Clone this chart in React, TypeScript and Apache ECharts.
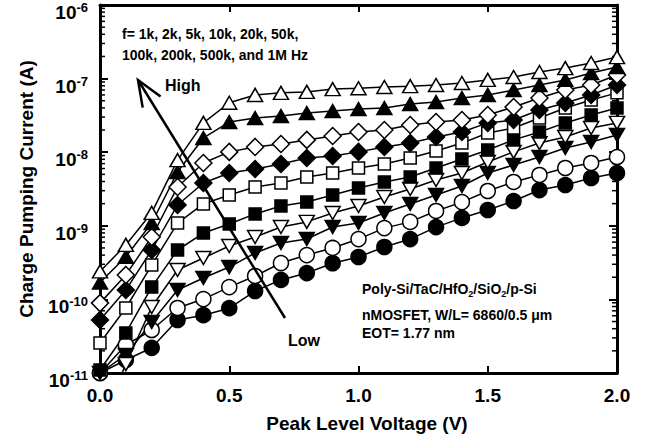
import React, { useEffect, useRef } from "react";
import * as echarts from "echarts";

// Peak level voltage (V) of each measurement point
const voltages = [0.0, 0.1, 0.2, 0.3, 0.4, 0.5, 0.6, 0.7, 0.8, 0.9, 1.0, 1.1, 1.2, 1.3, 1.4, 1.5, 1.6, 1.7, 1.8, 1.9, 2.0];

// Charge pumping current (A) at each gate-pulse frequency
const icp1k = [1.0e-11, 1.5e-11, 2.2e-11, 5.25e-11, 6.1e-11, 7.6e-11, 1.3e-10, 1.84e-10, 2.28e-10, 3.1e-10, 3.77e-10, 5.15e-10, 6.6e-10, 9.6e-10, 1.28e-9, 1.64e-9, 2.17e-9, 3.06e-9, 3.58e-9, 4.46e-9, 5.2e-9];
const icp2k = [1.0e-11, 2.4e-11, 3.84e-11, 7.64e-11, 1.01e-10, 1.47e-10, 2.08e-10, 3.12e-10, 4.0e-10, 5.0e-10, 6.6e-10, 9.3e-10, 1.13e-9, 1.59e-9, 2.1e-9, 2.97e-9, 3.94e-9, 4.9e-9, 6.1e-9, 7.13e-9, 8.6e-9];
const icp5k = [1.0e-11, 1.76e-11, 4.93e-11, 1.34e-10, 1.95e-10, 2.75e-10, 4.27e-10, 5.84e-10, 6.62e-10, 9.63e-10, 1.09e-9, 1.49e-9, 1.98e-9, 2.62e-9, 3.47e-9, 5.21e-9, 6.7e-9, 8.6e-9, 1.14e-8, 1.38e-8, 1.71e-8];
const icp10k = [2.0e-12, 1.32e-11, 7.88e-11, 2.51e-10, 3.65e-10, 5.32e-10, 7.05e-10, 9.63e-10, 1.13e-9, 1.49e-9, 1.86e-9, 2.46e-9, 3.16e-9, 4.19e-9, 5.21e-9, 7.36e-9, 1.01e-8, 1.33e-8, 1.61e-8, 2.13e-8, 2.5e-8];
const icp20k = [1.1e-11, 3.5e-11, 1.47e-10, 4.69e-10, 7.98e-10, 1.06e-9, 1.45e-9, 1.86e-9, 2.1e-9, 2.62e-9, 3.26e-9, 3.94e-9, 4.6e-9, 6.1e-9, 8.09e-9, 1.07e-8, 1.47e-8, 1.88e-8, 2.5e-8, 3.2e-8, 3.99e-8];
const icp50k = [2.56e-11, 7.64e-11, 2.93e-10, 1.09e-9, 1.98e-9, 2.62e-9, 3.37e-9, 3.82e-9, 4.6e-9, 5.21e-9, 6.1e-9, 6.92e-9, 8.34e-9, 1.04e-8, 1.33e-8, 1.82e-8, 2.13e-8, 2.92e-8, 3.99e-8, 5.12e-8, 6.4e-8];
const icp100k = [5.25e-11, 1.34e-10, 4.69e-10, 1.92e-9, 3.82e-9, 5.21e-9, 5.91e-9, 6.92e-9, 8.34e-9, 8.88e-9, 1.01e-8, 1.18e-8, 1.33e-8, 1.61e-8, 1.88e-8, 2.5e-8, 2.74e-8, 3.74e-8, 4.66e-8, 6.0e-8, 8.2e-8];
const icp200k = [8.9e-11, 2.15e-10, 7.05e-10, 3.37e-9, 7.13e-9, 1.01e-8, 1.18e-8, 1.29e-8, 1.47e-8, 1.66e-8, 1.88e-8, 2.0e-8, 2.34e-8, 2.57e-8, 2.74e-8, 3.2e-8, 4.11e-8, 5.45e-8, 7.0e-8, 8.2e-8, 1.12e-7];
const icp500k = [1.7e-10, 3.8e-10, 1.09e-9, 5.38e-9, 1.56e-8, 2.57e-8, 2.92e-8, 3.1e-8, 3.41e-8, 3.63e-8, 3.86e-8, 3.99e-8, 4.52e-8, 4.81e-8, 5.45e-8, 6.0e-8, 7.0e-8, 8.2e-8, 9.6e-8, 1.19e-7, 1.44e-7];
const icp1M = [2.4e-10, 5.5e-10, 1.5e-9, 7.8e-9, 2.5e-8, 4.7e-8, 6.0e-8, 6.4e-8, 6.6e-8, 7.2e-8, 7.4e-8, 7.7e-8, 7.9e-8, 8.2e-8, 8.7e-8, 9.6e-8, 1.05e-7, 1.23e-7, 1.39e-7, 1.63e-7, 1.96e-7];

// Axis ranges and tick labels
const xTicks = [0.0, 0.5, 1.0, 1.5, 2.0];
const yMin = 1e-11;
const yMax = 1e-6;
const minorTickValues: number[] = [];
for (let e = -11; e < -6; e++) {
  for (let m = 2; m <= 9; m++) minorTickValues.push(m * Math.pow(10, e));
}

const FONT = '"Liberation Sans", Arial, Helvetica, sans-serif';

type SeriesDef = {
  name: string;
  values: number[];
  symbol: string;
  size: number | number[];
  rotate: number;
  filled: boolean;
};

const seriesDefs: SeriesDef[] = [
  { name: "1k", values: icp1k, symbol: "circle", size: 15, rotate: 0, filled: true },
  { name: "2k", values: icp2k, symbol: "circle", size: 15, rotate: 0, filled: false },
  { name: "5k", values: icp5k, symbol: "triangle", size: [15, 13], rotate: 180, filled: true },
  { name: "10k", values: icp10k, symbol: "triangle", size: [15, 13], rotate: 180, filled: false },
  { name: "20k", values: icp20k, symbol: "rect", size: 12, rotate: 0, filled: true },
  { name: "50k", values: icp50k, symbol: "rect", size: 12, rotate: 0, filled: false },
  { name: "100k", values: icp100k, symbol: "diamond", size: 17, rotate: 0, filled: true },
  { name: "200k", values: icp200k, symbol: "diamond", size: 17, rotate: 0, filled: false },
  { name: "500k", values: icp500k, symbol: "triangle", size: [15, 13], rotate: 0, filled: true },
  { name: "1M", values: icp1M, symbol: "triangle", size: [15, 13], rotate: 0, filled: false },
];

function pairs(values: number[]) {
  return voltages.map((v, i) => [v, values[i]]);
}

export default function App() {
  const ref = useRef<HTMLDivElement>(null);

  useEffect(() => {
    if (!ref.current) return;
    const chart = echarts.init(ref.current, undefined, { renderer: "svg" });

    const lineSeries = seriesDefs.map((s) => ({
      name: s.name,
      type: "line",
      data: pairs(s.values),
      showSymbol: false,
      symbol: "none",
      lineStyle: { color: "#000", width: 1.5 },
      z: 2,
      silent: true,
    }));

    const markerSeries = seriesDefs.map((s) => ({
      name: s.name,
      type: "scatter",
      data: pairs(s.values),
      symbol: s.symbol,
      symbolSize: s.size,
      symbolRotate: s.rotate,
      itemStyle: { color: s.filled ? "#000" : "#fff", borderColor: "#000", borderWidth: 1.5, opacity: 1 },
      z: 3,
      silent: true,
    }));

    const minorTicks = {
      type: "custom",
      data: minorTickValues.map((v) => [0, v]),
      silent: true,
      z: 1,
      clip: false,
      renderItem: (_p: any, api: any) => {
        const v = api.value(1);
        const l = api.coord([xTicks[0], v]);
        const r = api.coord([xTicks[xTicks.length - 1], v]);
        return {
          type: "group",
          children: [
            { type: "line", shape: { x1: l[0], y1: l[1], x2: l[0] + 5, y2: l[1] }, style: { stroke: "#000", lineWidth: 1.5 } },
            { type: "line", shape: { x1: r[0] - 5, y1: r[1], x2: r[0], y2: r[1] }, style: { stroke: "#000", lineWidth: 1.5 } },
          ],
        };
      },
    };

    const tipX = 138, tipY = 80, tailX = 285, tailY = 318;

    const option: any = {
      animation: false,
      backgroundColor: "#fff",
      grid: { left: 100, right: 30, top: 5, bottom: 69, outerBoundsMode: "none" },
      xAxis: [
        {
          type: "value",
          min: xTicks[0],
          max: xTicks[xTicks.length - 1],
          interval: 0.5,
          name: "Peak Level Voltage (V)",
          nameLocation: "middle",
          nameGap: 41,
          nameMoveOverlap: false,
          nameTextStyle: { fontFamily: FONT, fontWeight: "bold", fontSize: 19, color: "#000", padding: [0, 0, 0, 17] },
          axisLine: { show: true, onZero: false, lineStyle: { color: "#000", width: 3 } },
          axisTick: { show: true, inside: true, length: 7, lineStyle: { color: "#000", width: 2 } },
          axisLabel: { margin: 13, fontFamily: FONT, fontWeight: "bold", fontSize: 19, color: "#000", formatter: (v: number) => v.toFixed(1) },
          splitLine: { show: false },
        },
        {
          type: "value",
          position: "top",
          min: xTicks[0],
          max: xTicks[xTicks.length - 1],
          interval: 0.5,
          axisLine: { show: true, onZero: false, lineStyle: { color: "#000", width: 3 } },
          axisTick: { show: true, inside: true, length: 7, lineStyle: { color: "#000", width: 2 } },
          axisLabel: { show: false },
          splitLine: { show: false },
        },
      ],
      yAxis: [
        {
          type: "log",
          logBase: 10,
          min: yMin,
          max: yMax,
          name: "Charge Pumping Current (A)",
          nameLocation: "middle",
          nameGap: 64,
          nameMoveOverlap: false,
          nameTextStyle: { fontFamily: FONT, fontWeight: "bold", fontSize: 19, color: "#000" },
          axisLine: { show: true, onZero: false, lineStyle: { color: "#000", width: 3 } },
          axisTick: { show: true, inside: true, length: 8, lineStyle: { color: "#000", width: 2 } },
          axisLabel: {
            margin: 12,
            formatter: (v: number) => `{b|10}{s|${Math.round(Math.log10(v))}}`,
            rich: {
              b: { fontFamily: FONT, fontWeight: "bold", fontSize: 19, color: "#000", lineHeight: 22, padding: [15, 0, 0, 0], verticalAlign: "middle" },
              s: { fontFamily: FONT, fontWeight: "bold", fontSize: 13, color: "#000", lineHeight: 15, padding: [5, 0, 0, 0], verticalAlign: "middle" },
            },
          },
          splitLine: { show: false },
          minorTick: { show: false },
        },
        {
          type: "log",
          logBase: 10,
          position: "right",
          min: yMin,
          max: yMax,
          axisLine: { show: true, onZero: false, lineStyle: { color: "#000", width: 3 } },
          axisTick: { show: true, inside: true, length: 8, lineStyle: { color: "#000", width: 2 } },
          axisLabel: { show: false },
          splitLine: { show: false },
        },
      ],
      series: [minorTicks, ...lineSeries, ...markerSeries],
      graphic: [
        {
          type: "text",
          x: 122,
          y: 34,
          z: 10,
          style: { text: "f= 1k, 2k, 5k, 10k, 20k, 50k,", font: `bold 14px ${FONT}`, fill: "#000", verticalAlign: "middle" },
        },
        {
          type: "text",
          x: 122,
          y: 55,
          z: 10,
          style: { text: "100k, 200k, 500k, and 1M Hz", font: `bold 14px ${FONT}`, fill: "#000", verticalAlign: "middle" },
        },
        {
          type: "text",
          x: 165,
          y: 85,
          z: 10,
          style: { text: "High", font: `bold 16px ${FONT}`, fill: "#000", verticalAlign: "middle" },
        },
        {
          type: "text",
          x: 288,
          y: 340,
          z: 10,
          style: { text: "Low", font: `bold 16px ${FONT}`, fill: "#000", verticalAlign: "middle" },
        },
        {
          type: "line",
          z: 10,
          shape: { x1: tailX, y1: tailY, x2: tipX, y2: tipY },
          style: { stroke: "#000", lineWidth: 2.5 },
        },
        {
          type: "polyline",
          z: 10,
          shape: { points: [[142.7, 107.6], [tipX, tipY], [160.6, 96.6]] },
          style: { stroke: "#000", lineWidth: 2.5, fill: null },
        },
        {
          type: "text",
          x: 362,
          y: 289,
          z: 10,
          style: {
            text: "{a|Poly-Si/TaC/HfO}{u|2}{a|/SiO}{u|2}{a|/p-Si}",
            verticalAlign: "middle",
            rich: {
              a: { fontFamily: FONT, fontWeight: "bold", fontSize: 14, fill: "#000", lineHeight: 18, verticalAlign: "middle" },
              u: { fontFamily: FONT, fontWeight: "bold", fontSize: 9, fill: "#000", lineHeight: 11, verticalAlign: "bottom" },
            },
          },
        },
        {
          type: "text",
          x: 362,
          y: 315,
          z: 10,
          style: { text: "nMOSFET, W/L= 6860/0.5 \u03bcm", font: `bold 14px ${FONT}`, fill: "#000", verticalAlign: "middle" },
        },
        {
          type: "text",
          x: 362,
          y: 333,
          z: 10,
          style: { text: "EOT= 1.77 nm", font: `bold 14px ${FONT}`, fill: "#000", verticalAlign: "middle" },
        },
      ],
    };

    chart.setOption(option);
    return () => chart.dispose();
  }, []);

  return <div ref={ref} style={{ position: "fixed", left: 0, top: 0, width: 647, height: 442, background: "#fff" }} />;
}
